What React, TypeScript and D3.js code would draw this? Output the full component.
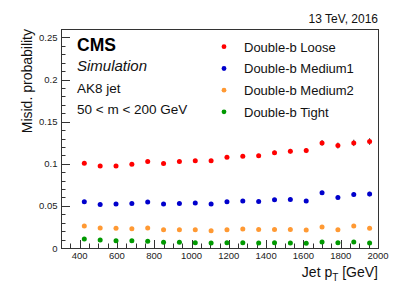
import { useRef, useEffect } from "react";
import * as d3 from "d3";

const ptBins = [425, 510, 595, 680, 765, 850, 935, 1020, 1105, 1190, 1275, 1360, 1445, 1530, 1615, 1700, 1785, 1870, 1955];

const loose = [0.1007, 0.0975, 0.0975, 0.0995, 0.1027, 0.1003, 0.1027, 0.1035, 0.1035, 0.1078, 0.109, 0.1094, 0.113, 0.1149, 0.1157, 0.1248, 0.1216, 0.1248, 0.1264];
const looseErr = [0.0012, 0.0012, 0.0012, 0.0013, 0.0014, 0.0015, 0.0016, 0.0017, 0.0018, 0.002, 0.0021, 0.0023, 0.0025, 0.0027, 0.003, 0.0034, 0.0036, 0.0038, 0.004];

const medium1 = [0.0549, 0.0517, 0.0521, 0.0529, 0.0545, 0.0521, 0.0529, 0.0533, 0.0521, 0.0549, 0.0557, 0.0553, 0.0573, 0.0577, 0.0557, 0.0656, 0.06, 0.0636, 0.064];
const medium1Err = [0.0008, 0.0008, 0.0008, 0.0009, 0.001, 0.001, 0.0011, 0.0012, 0.0013, 0.0014, 0.0015, 0.0016, 0.0017, 0.0018, 0.002, 0.0022, 0.0024, 0.0025, 0.0027];

const medium2 = [0.0261, 0.0237, 0.0233, 0.0229, 0.0237, 0.0217, 0.0217, 0.0217, 0.0205, 0.0217, 0.0225, 0.0221, 0.0221, 0.0221, 0.0213, 0.0249, 0.0217, 0.0261, 0.0233];
const medium2Err = [0.0005, 0.0005, 0.0005, 0.0006, 0.0006, 0.0007, 0.0007, 0.0008, 0.0008, 0.0009, 0.001, 0.001, 0.0011, 0.0012, 0.0012, 0.0014, 0.0015, 0.0016, 0.0017];

const tight = [0.0107, 0.0095, 0.0087, 0.0087, 0.0079, 0.0067, 0.0067, 0.0063, 0.0059, 0.0063, 0.0063, 0.0059, 0.0063, 0.0059, 0.0055, 0.0071, 0.0063, 0.0071, 0.0059];
const tightErr = [0.0003, 0.0003, 0.0003, 0.0004, 0.0004, 0.0004, 0.0004, 0.0005, 0.0005, 0.0005, 0.0006, 0.0006, 0.0006, 0.0007, 0.0007, 0.0008, 0.0008, 0.0009, 0.0009];

const seriesNames = ["Double-b Loose", "Double-b Medium1", "Double-b Medium2", "Double-b Tight"];
const seriesColors = ["#ff0000", "#0000cc", "#ff9933", "#009900"];

const yTicks = [0, 0.05, 0.1, 0.15, 0.2, 0.25];
const xTicks = [400, 600, 800, 1000, 1200, 1400, 1600, 1800, 2000];

const FONT = "'Liberation Sans', Arial, Helvetica, sans-serif";

export default function App() {
  const svgRef = useRef<SVGSVGElement>(null);

  const width = 407;
  const height = 293;
  const frameLeft = 61;
  const frameRight = 378;
  const frameTop = 29;
  const frameBottom = 248;

  useEffect(() => {
    const svg = d3.select(svgRef.current);
    svg.selectAll("*").remove();

    const x = d3.scaleLinear().domain([300, 2000]).range([frameLeft, frameRight]);
    const y = d3.scaleLinear().domain([0, 0.26]).range([frameBottom, frameTop]);

    const axisColor = "#333";

    // frame
    svg
      .append("rect")
      .attr("x", frameLeft + 0.5)
      .attr("y", frameTop + 0.5)
      .attr("width", frameRight - frameLeft)
      .attr("height", frameBottom - frameTop)
      .attr("fill", "none")
      .attr("stroke", axisColor)
      .attr("stroke-width", 1);

    // y ticks (inward, ROOT style)
    const yMinor = d3.range(0, 0.2601, 0.01);
    svg
      .append("g")
      .selectAll("line")
      .data(yMinor)
      .enter()
      .append("line")
      .attr("x1", frameLeft)
      .attr("x2", (d) => (Math.abs((d * 100) % 5) < 0.01 || Math.abs((d * 100) % 5 - 5) < 0.01 ? frameLeft + 9 : frameLeft + 4.5))
      .attr("y1", (d) => Math.round(y(d)) + 0.5)
      .attr("y2", (d) => Math.round(y(d)) + 0.5)
      .attr("stroke", axisColor);

    svg
      .append("g")
      .selectAll("text")
      .data(yTicks)
      .enter()
      .append("text")
      .attr("x", frameLeft - 3.5)
      .attr("y", (d) => y(d) + 3.5)
      .attr("text-anchor", "end")
      .attr("font-family", FONT)
      .attr("font-size", 9.5)
      .attr("fill", "#222")
      .text((d) => d3.format("~g")(d));

    // x ticks
    const xMinor = d3.range(300, 2001, 50);
    svg
      .append("g")
      .selectAll("line")
      .data(xMinor)
      .enter()
      .append("line")
      .attr("x1", (d) => Math.round(x(d)) + 0.5)
      .attr("x2", (d) => Math.round(x(d)) + 0.5)
      .attr("y1", frameBottom)
      .attr("y2", (d) => (d % 200 === 0 ? frameBottom - 8 : frameBottom - 4.5))
      .attr("stroke", axisColor);

    svg
      .append("g")
      .selectAll("text")
      .data(xTicks)
      .enter()
      .append("text")
      .attr("x", (d) => x(d))
      .attr("y", frameBottom + 11)
      .attr("text-anchor", "middle")
      .attr("font-family", FONT)
      .attr("font-size", 9.5)
      .attr("fill", "#222")
      .text((d) => d);

    // axis titles
    svg
      .append("text")
      .attr("transform", `translate(31.5,${frameTop}) rotate(-90)`)
      .attr("text-anchor", "end")
      .attr("font-family", FONT)
      .attr("font-size", 14)
      .attr("fill", "#111")
      .text("Misid. probability");

    const xTitle = svg
      .append("text")
      .attr("x", frameRight)
      .attr("y", 277)
      .attr("text-anchor", "end")
      .attr("font-family", FONT)
      .attr("font-size", 14)
      .attr("fill", "#111");
    xTitle.append("tspan").text("Jet p");
    xTitle.append("tspan").attr("font-size", 10).attr("dy", 4).text("T");
    xTitle.append("tspan").attr("dy", -4).text(" [GeV]");

    // header text
    svg
      .append("text")
      .attr("x", frameRight)
      .attr("y", 23)
      .attr("text-anchor", "end")
      .attr("font-family", FONT)
      .attr("font-size", 12)
      .attr("fill", "#111")
      .text("13 TeV, 2016");

    svg
      .append("text")
      .attr("x", 77)
      .attr("y", 50.5)
      .attr("font-family", FONT)
      .attr("font-size", 17.5)
      .attr("font-weight", "bold")
      .attr("fill", "#000")
      .text("CMS");

    svg
      .append("text")
      .attr("x", 77)
      .attr("y", 70.5)
      .attr("font-family", FONT)
      .attr("font-size", 15)
      .attr("font-style", "italic")
      .attr("fill", "#111")
      .text("Simulation");

    svg
      .append("text")
      .attr("x", 77)
      .attr("y", 92.5)
      .attr("font-family", FONT)
      .attr("font-size", 13.5)
      .attr("fill", "#111")
      .text("AK8 jet");

    svg
      .append("text")
      .attr("x", 77)
      .attr("y", 113.5)
      .attr("font-family", FONT)
      .attr("font-size", 13.5)
      .attr("fill", "#111")
      .text("50 < m < 200 GeV");

    // legend
    const legendY = [46.7, 68.5, 90.2, 111.8];
    const legend = svg
      .append("g")
      .selectAll("g")
      .data(seriesNames)
      .enter()
      .append("g");
    legend
      .append("circle")
      .attr("cx", 224)
      .attr("cy", (_d, i) => legendY[i])
      .attr("r", 2.4)
      .attr("fill", (_d, i) => seriesColors[i]);
    legend
      .append("text")
      .attr("x", 244)
      .attr("y", (_d, i) => legendY[i] + 4.8)
      .attr("font-family", FONT)
      .attr("font-size", 13)
      .attr("fill", "#111")
      .text((d) => d);

    // data
    const allSeries = [
      { vals: loose, errs: looseErr },
      { vals: medium1, errs: medium1Err },
      { vals: medium2, errs: medium2Err },
      { vals: tight, errs: tightErr },
    ];

    allSeries.forEach((s, si) => {
      const pts = ptBins.map((pt, i) => ({ pt, v: s.vals[i], e: s.errs[i] }));
      const g = svg.append("g");
      g.selectAll("line")
        .data(pts)
        .enter()
        .append("line")
        .attr("x1", (d) => x(d.pt))
        .attr("x2", (d) => x(d.pt))
        .attr("y1", (d) => y(d.v - d.e))
        .attr("y2", (d) => y(d.v + d.e))
        .attr("stroke", "#444")
        .attr("stroke-width", 1);
      g.selectAll("circle")
        .data(pts)
        .enter()
        .append("circle")
        .attr("cx", (d) => x(d.pt))
        .attr("cy", (d) => y(d.v))
        .attr("r", 2.5)
        .attr("fill", seriesColors[si]);
    });
  }, []);

  return (
    <svg
      ref={svgRef}
      width={width}
      height={height}
      style={{ position: "absolute", left: 0, top: 0, background: "#fff" }}
    />
  );
}
